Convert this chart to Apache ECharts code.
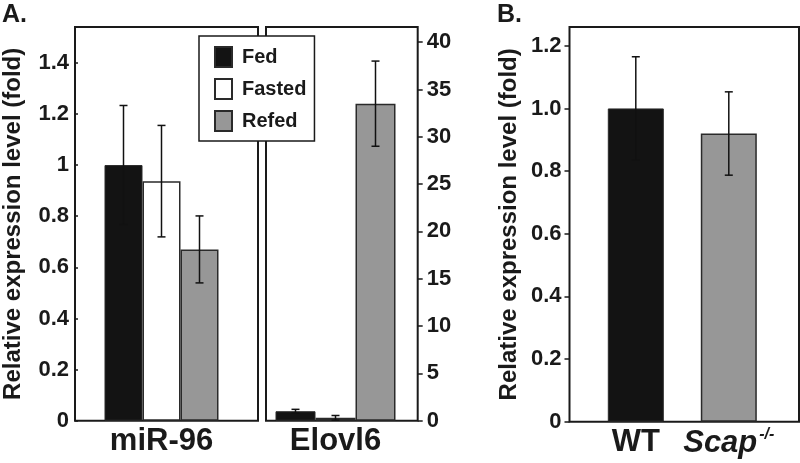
<!DOCTYPE html>
<html>
<head>
<meta charset="utf-8">
<script src="https://cdn.jsdelivr.net/npm/echarts@6/dist/echarts.min.js"></script>
<style>html,body{margin:0;padding:0;background:#fff}#c{width:800px;height:463px}</style>
</head>
<body>
<div id="c"></div>
<script>
// ---- data ----
const conditions = ['Fed', 'Fasted', 'Refed'];
const mir96Label = ['miR-96'];
const mir96Mean = [1.00, 0.937, 0.67];
const mir96Err = [0.233, 0.218, 0.131];
const elovl6Label = ['Elovl6'];
const elovl6Mean = [1.0, 0.3, 33.5];
const elovl6Err = [0.2, 0.25, 4.5];
const genotypes = ['WT', 'Scap-/-'];
const genoMean = [1.00, 0.92];
const genoErr = [0.165, 0.133];
const yMaxA = 1.54, yMaxElovl = 41.6, yMaxB = 1.26;

// ---- style ----
const FONT = 'Liberation Sans, Arial, sans-serif';
const INK = '#1a1a1a';
const colors = ['#131313', '#ffffff', '#979797'];
const TOP = 27, BOT_A = 42.3, BOT_B = 41.3;

const chart = echarts.init(document.getElementById('c'), null, {renderer: 'canvas'});

function frameGrid(left, width, bottom) {
  return {left: left, width: width, top: TOP, bottom: bottom, show: true,
          borderColor: INK, borderWidth: 2, backgroundColor: 'transparent', containLabel: false};
}
function barGrid(left, width, bottom) {
  return {left: left, width: width, top: TOP, bottom: bottom, show: false, containLabel: false};
}
const grids = [
  frameGrid(73, 185, BOT_A), barGrid(104, 115, BOT_A),
  frameGrid(266, 151.7, BOT_A), barGrid(275, 121, BOT_A),
  frameGrid(569.5, 229.5, BOT_B), barGrid(589.3, 186, BOT_B)
];

const catLabel = {show: true, fontSize: 31, fontWeight: 'bold', fontFamily: FONT, color: INK, margin: 5, interval: 0};
const hiddenX = (g) => ({gridIndex: g, type: 'category', data: ['_'], show: false});
const xAxes = [
  hiddenX(0),
  {gridIndex: 1, type: 'category', data: mir96Label, axisLine: {show: false}, axisTick: {show: false}, axisLabel: catLabel},
  hiddenX(2),
  {gridIndex: 3, type: 'category', data: elovl6Label, axisLine: {show: false}, axisTick: {show: false}, axisLabel: catLabel},
  hiddenX(4),
  {gridIndex: 5, type: 'category', data: genotypes, axisLine: {show: false}, axisTick: {show: false},
   axisLabel: Object.assign({}, catLabel, {
     formatter: function (v) { return v === 'WT' ? '{n|WT}' : '{i|Scap}{s|-/-}'; },
     rich: {
       n: {fontSize: 31, fontWeight: 'bold', fontFamily: FONT, color: INK},
       i: {fontSize: 31, fontWeight: 'bold', fontStyle: 'italic', fontFamily: FONT, color: INK},
       s: {fontSize: 16, fontWeight: 'bold', fontStyle: 'italic', fontFamily: FONT, color: INK, padding: [0, 0, 18, 2]}
     }
   })}
];

const tickLab = {fontSize: 22, fontWeight: 'bold', fontFamily: FONT, color: INK};
const nameStyle = {fontSize: 24, fontWeight: 'bold', fontFamily: FONT, color: INK};
const yAxes = [
  {gridIndex: 0, type: 'value', min: 0, max: yMaxA, interval: 0.2,
   name: 'Relative expression level (fold)', nameLocation: 'middle', nameRotate: 90, nameGap: 50, nameTextStyle: nameStyle,
   axisLine: {show: false, onZero: false}, splitLine: {show: false},
   axisTick: {show: true, inside: true, length: 3, lineStyle: {color: INK, width: 1.5}},
   axisLabel: Object.assign({margin: 6, showMaxLabel: false, formatter: v => (Math.round(v * 10) / 10).toString()}, tickLab)},
  {gridIndex: 1, type: 'value', min: 0, max: yMaxA, show: false},
  {gridIndex: 2, type: 'value', position: 'right', min: 0, max: yMaxElovl, interval: 5,
   axisLine: {show: false, onZero: false}, splitLine: {show: false},
   axisTick: {show: true, inside: false, length: 5, lineStyle: {color: INK, width: 1.5}},
   axisLabel: Object.assign({margin: 9, showMaxLabel: false}, tickLab)},
  {gridIndex: 3, type: 'value', min: 0, max: yMaxElovl, show: false},
  {gridIndex: 4, type: 'value', min: 0, max: yMaxB, interval: 0.2,
   name: 'Relative expression level (fold)', nameLocation: 'middle', nameRotate: 90, nameGap: 48, nameTextStyle: nameStyle,
   axisLine: {show: false, onZero: false}, splitLine: {show: false},
   axisTick: {show: true, inside: false, length: 5, lineStyle: {color: INK, width: 1.5}},
   axisLabel: Object.assign({margin: 8, showMaxLabel: false, formatter: v => v === 0 ? '0' : v.toFixed(1)}, tickLab)},
  {gridIndex: 5, type: 'value', min: 0, max: yMaxB, show: false}
];

function barStyle(i) {
  return {color: colors[i], borderColor: '#2a2a2a', borderWidth: i === 0 ? 1 : 1.5};
}
function errSeries(axisIdx, means, errs, bw, n) {
  return {
    type: 'custom', xAxisIndex: axisIdx, yAxisIndex: axisIdx, z: 10, silent: true,
    data: means.map((m, k) => [n > 1 ? 0 : k, m, errs[k], k]),
    renderItem: function (params, api) {
      const cat = api.value(0), m = api.value(1), e = api.value(2), k = api.value(3);
      const top = api.coord([cat, m + e]);
      const bot = api.coord([cat, Math.max(0, m - e)]);
      const x = top[0] + (n > 1 ? (k - (n - 1) / 2) * bw : 0);
      const st = {stroke: '#111', lineWidth: 1.5};
      return {type: 'group', children: [
        {type: 'line', shape: {x1: x, y1: top[1], x2: x, y2: bot[1]}, style: st},
        {type: 'line', shape: {x1: x - 4, y1: top[1], x2: x + 4, y2: top[1]}, style: st},
        {type: 'line', shape: {x1: x - 4, y1: bot[1], x2: x + 4, y2: bot[1]}, style: st}
      ]};
    }
  };
}

const series = [];
conditions.forEach((c, i) => {
  series.push({type: 'bar', name: c, xAxisIndex: 1, yAxisIndex: 1, data: [mir96Mean[i]],
    barWidth: 38, barGap: '0%', itemStyle: barStyle(i)});
});
conditions.forEach((c, i) => {
  series.push({type: 'bar', name: c, xAxisIndex: 3, yAxisIndex: 3, data: [elovl6Mean[i]],
    barWidth: 40, barGap: '0%', itemStyle: barStyle(i)});
});
series.push({type: 'bar', name: 'geno', xAxisIndex: 5, yAxisIndex: 5, barWidth: 56,
  data: genoMean.map((v, k) => ({value: v, itemStyle: barStyle(k === 0 ? 0 : 2)}))});
series.push(errSeries(1, mir96Mean, mir96Err, 38, 3));
series.push(errSeries(3, elovl6Mean, elovl6Err, 40, 3));
series.push(errSeries(5, genoMean, genoErr, 0, 1));

chart.setOption({
  animation: false,
  backgroundColor: '#ffffff',
  grid: grids, xAxis: xAxes, yAxis: yAxes, series: series,
  legend: {
    data: conditions, orient: 'vertical', left: 199, top: 36, z: 20,
    backgroundColor: '#ffffff', borderColor: INK, borderWidth: 1.5,
    padding: [10, 8, 9, 15], itemGap: 10, itemWidth: 17, itemHeight: 20, icon: 'rect',
    selectedMode: false,
    textStyle: {fontSize: 20, fontWeight: 'bold', fontFamily: FONT, color: INK, padding: [0, 0, 0, 5]}
  },
  title: [
    {text: 'A.', left: 2, top: 3, textStyle: {fontSize: 25, fontWeight: 'bold', fontFamily: FONT, color: INK}, padding: 0},
    {text: 'B.', left: 497, top: 3, textStyle: {fontSize: 25, fontWeight: 'bold', fontFamily: FONT, color: INK}, padding: 0}
  ]
});
</script>
</body>
</html>
